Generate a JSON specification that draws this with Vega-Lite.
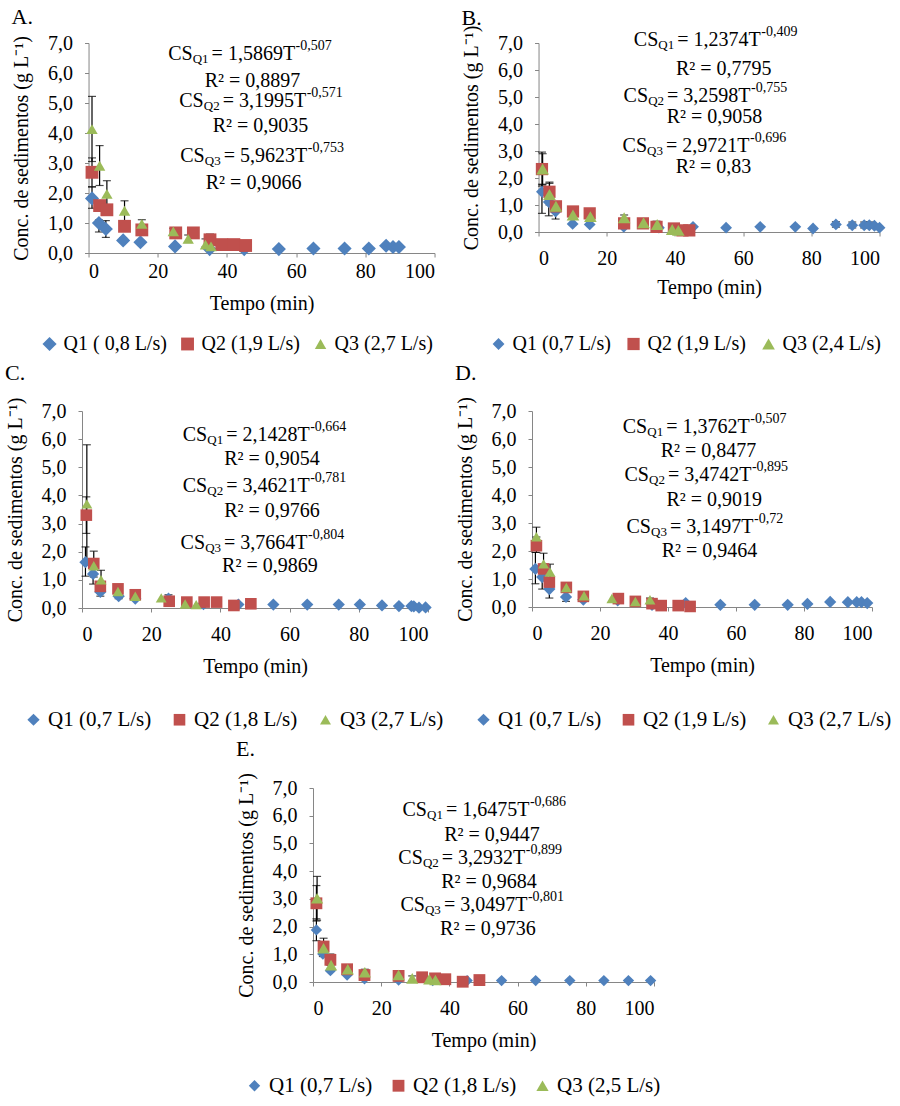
{
"$schema":"https://vega.github.io/schema/vega-lite/v6.json",
"padding":{"left":5,"top":6,"right":0,"bottom":5},
"config":{
 "font":"Liberation Serif",
 "view":{"stroke":null},
 "axis":{"grid":false,"domainColor":"#868686","tickColor":"#868686","tickSize":4,"labelFont":"Liberation Serif","labelFontSize":20,"labelColor":"#000","titleFont":"Liberation Serif","titleFontSize":20,"titleFontWeight":"normal","titleColor":"#000"},
 "axisX":{"labelPadding":12,"titlePadding":12},
 "axisY":{"labelPadding":12,"titlePadding":16,"labelExpr":"replace(format(datum.value,'.1f'),'.',',')"},
 "legend":{"direction":"horizontal","labelFont":"Liberation Serif","labelFontSize":20,"labelColor":"#000","symbolSize":75,"columnPadding":12,"labelOffset":4,"symbolStrokeWidth":0},
 "text":{"font":"Liberation Serif","fontSize":20,"baseline":"middle","color":"#000"},
 "title":{"font":"Liberation Serif","fontSize":22,"fontWeight":"normal","anchor":"start","frame":"bounds","offset":4,"color":"#000"}
},
"datasets":{
"pts":[
{"p":"A","s":"Q1 ( 0,8 L/s)","t":1,"c":1.82},{"p":"A","s":"Q1 ( 0,8 L/s)","t":3,"c":1.0},{"p":"A","s":"Q1 ( 0,8 L/s)","t":5,"c":0.8},{"p":"A","s":"Q1 ( 0,8 L/s)","t":10,"c":0.42},{"p":"A","s":"Q1 ( 0,8 L/s)","t":15,"c":0.36},{"p":"A","s":"Q1 ( 0,8 L/s)","t":25,"c":0.22},{"p":"A","s":"Q1 ( 0,8 L/s)","t":35,"c":0.13},{"p":"A","s":"Q1 ( 0,8 L/s)","t":45,"c":0.13},{"p":"A","s":"Q1 ( 0,8 L/s)","t":55,"c":0.13},{"p":"A","s":"Q1 ( 0,8 L/s)","t":65,"c":0.15},{"p":"A","s":"Q1 ( 0,8 L/s)","t":74,"c":0.15},{"p":"A","s":"Q1 ( 0,8 L/s)","t":81,"c":0.15},{"p":"A","s":"Q1 ( 0,8 L/s)","t":86,"c":0.24},{"p":"A","s":"Q1 ( 0,8 L/s)","t":88,"c":0.2},{"p":"A","s":"Q1 ( 0,8 L/s)","t":89.7,"c":0.2},
{"p":"A","s":"Q2 (1,9 L/s)","t":1,"c":2.69},{"p":"A","s":"Q2 (1,9 L/s)","t":3.2,"c":1.58},{"p":"A","s":"Q2 (1,9 L/s)","t":5.3,"c":1.44},{"p":"A","s":"Q2 (1,9 L/s)","t":10.4,"c":0.89},{"p":"A","s":"Q2 (1,9 L/s)","t":15.4,"c":0.77},{"p":"A","s":"Q2 (1,9 L/s)","t":25.2,"c":0.67},{"p":"A","s":"Q2 (1,9 L/s)","t":30.3,"c":0.67},{"p":"A","s":"Q2 (1,9 L/s)","t":35.1,"c":0.44},{"p":"A","s":"Q2 (1,9 L/s)","t":38.5,"c":0.28},{"p":"A","s":"Q2 (1,9 L/s)","t":42,"c":0.28},{"p":"A","s":"Q2 (1,9 L/s)","t":45.4,"c":0.25},
{"p":"A","s":"Q3 (2,7 L/s)","t":1,"c":4.13},{"p":"A","s":"Q3 (2,7 L/s)","t":3.2,"c":2.91},{"p":"A","s":"Q3 (2,7 L/s)","t":5.3,"c":1.97},{"p":"A","s":"Q3 (2,7 L/s)","t":10.4,"c":1.41},{"p":"A","s":"Q3 (2,7 L/s)","t":15.4,"c":0.97},{"p":"A","s":"Q3 (2,7 L/s)","t":24.5,"c":0.72},{"p":"A","s":"Q3 (2,7 L/s)","t":28.8,"c":0.47},{"p":"A","s":"Q3 (2,7 L/s)","t":33.8,"c":0.28},{"p":"A","s":"Q3 (2,7 L/s)","t":35.4,"c":0.22},
{"p":"B","s":"Q1 (0,7 L/s)","t":1,"c":1.49},{"p":"B","s":"Q1 (0,7 L/s)","t":3,"c":1.11},{"p":"B","s":"Q1 (0,7 L/s)","t":5,"c":0.76},{"p":"B","s":"Q1 (0,7 L/s)","t":10,"c":0.3},{"p":"B","s":"Q1 (0,7 L/s)","t":15,"c":0.28},{"p":"B","s":"Q1 (0,7 L/s)","t":25,"c":0.19},{"p":"B","s":"Q1 (0,7 L/s)","t":35.3,"c":0.16},{"p":"B","s":"Q1 (0,7 L/s)","t":45.3,"c":0.19},{"p":"B","s":"Q1 (0,7 L/s)","t":55,"c":0.16},{"p":"B","s":"Q1 (0,7 L/s)","t":65,"c":0.19},{"p":"B","s":"Q1 (0,7 L/s)","t":75.3,"c":0.19},{"p":"B","s":"Q1 (0,7 L/s)","t":80.5,"c":0.13},{"p":"B","s":"Q1 (0,7 L/s)","t":87.2,"c":0.28},{"p":"B","s":"Q1 (0,7 L/s)","t":92,"c":0.25},{"p":"B","s":"Q1 (0,7 L/s)","t":95.5,"c":0.25},{"p":"B","s":"Q1 (0,7 L/s)","t":97,"c":0.25},{"p":"B","s":"Q1 (0,7 L/s)","t":98.5,"c":0.23},{"p":"B","s":"Q1 (0,7 L/s)","t":100,"c":0.16},
{"p":"B","s":"Q2 (1,9 L/s)","t":1,"c":2.33},{"p":"B","s":"Q2 (1,9 L/s)","t":3.2,"c":1.49},{"p":"B","s":"Q2 (1,9 L/s)","t":5.1,"c":0.95},{"p":"B","s":"Q2 (1,9 L/s)","t":10.1,"c":0.76},{"p":"B","s":"Q2 (1,9 L/s)","t":15,"c":0.69},{"p":"B","s":"Q2 (1,9 L/s)","t":25.1,"c":0.32},{"p":"B","s":"Q2 (1,9 L/s)","t":30.6,"c":0.32},{"p":"B","s":"Q2 (1,9 L/s)","t":34.6,"c":0.19},{"p":"B","s":"Q2 (1,9 L/s)","t":39.7,"c":0.13},{"p":"B","s":"Q2 (1,9 L/s)","t":42.2,"c":0.06},{"p":"B","s":"Q2 (1,9 L/s)","t":44.2,"c":0.06},
{"p":"B","s":"Q3 (2,4 L/s)","t":1.2,"c":2.33},{"p":"B","s":"Q3 (2,4 L/s)","t":3.2,"c":1.39},{"p":"B","s":"Q3 (2,4 L/s)","t":5.1,"c":0.95},{"p":"B","s":"Q3 (2,4 L/s)","t":10.1,"c":0.63},{"p":"B","s":"Q3 (2,4 L/s)","t":15.2,"c":0.57},{"p":"B","s":"Q3 (2,4 L/s)","t":25.1,"c":0.53},{"p":"B","s":"Q3 (2,4 L/s)","t":30.8,"c":0.34},{"p":"B","s":"Q3 (2,4 L/s)","t":34.8,"c":0.28},{"p":"B","s":"Q3 (2,4 L/s)","t":39.2,"c":0.09},{"p":"B","s":"Q3 (2,4 L/s)","t":41,"c":0.06},
{"p":"C","s":"Q1 (0,7 L/s)","t":1,"c":1.63},{"p":"C","s":"Q1 (0,7 L/s)","t":3.2,"c":1.21},{"p":"C","s":"Q1 (0,7 L/s)","t":5.3,"c":0.57},{"p":"C","s":"Q1 (0,7 L/s)","t":10.6,"c":0.42},{"p":"C","s":"Q1 (0,7 L/s)","t":15.4,"c":0.33},{"p":"C","s":"Q1 (0,7 L/s)","t":25,"c":0.33},{"p":"C","s":"Q1 (0,7 L/s)","t":35.1,"c":0.14},{"p":"C","s":"Q1 (0,7 L/s)","t":45.2,"c":0.12},{"p":"C","s":"Q1 (0,7 L/s)","t":55.3,"c":0.12},{"p":"C","s":"Q1 (0,7 L/s)","t":65.1,"c":0.12},{"p":"C","s":"Q1 (0,7 L/s)","t":74.2,"c":0.12},{"p":"C","s":"Q1 (0,7 L/s)","t":80.3,"c":0.12},{"p":"C","s":"Q1 (0,7 L/s)","t":86.7,"c":0.09},{"p":"C","s":"Q1 (0,7 L/s)","t":91.6,"c":0.07},{"p":"C","s":"Q1 (0,7 L/s)","t":95.2,"c":0.07},{"p":"C","s":"Q1 (0,7 L/s)","t":95.9,"c":0.06},{"p":"C","s":"Q1 (0,7 L/s)","t":97.4,"c":0.01},{"p":"C","s":"Q1 (0,7 L/s)","t":99.3,"c":0.02},
{"p":"C","s":"Q2 (1,8 L/s)","t":1.25,"c":3.3},{"p":"C","s":"Q2 (1,8 L/s)","t":3.4,"c":1.58},{"p":"C","s":"Q2 (1,8 L/s)","t":5.3,"c":0.77},{"p":"C","s":"Q2 (1,8 L/s)","t":10.4,"c":0.68},{"p":"C","s":"Q2 (1,8 L/s)","t":15.4,"c":0.47},{"p":"C","s":"Q2 (1,8 L/s)","t":25.2,"c":0.24},{"p":"C","s":"Q2 (1,8 L/s)","t":30.3,"c":0.21},{"p":"C","s":"Q2 (1,8 L/s)","t":35.3,"c":0.21},{"p":"C","s":"Q2 (1,8 L/s)","t":38.9,"c":0.21},{"p":"C","s":"Q2 (1,8 L/s)","t":43.9,"c":0.09},{"p":"C","s":"Q2 (1,8 L/s)","t":48.8,"c":0.15},
{"p":"C","s":"Q3 (2,7 L/s)","t":1.4,"c":3.7},{"p":"C","s":"Q3 (2,7 L/s)","t":3.4,"c":1.5},{"p":"C","s":"Q3 (2,7 L/s)","t":5.5,"c":1.0},{"p":"C","s":"Q3 (2,7 L/s)","t":10.4,"c":0.59},{"p":"C","s":"Q3 (2,7 L/s)","t":15.4,"c":0.42},{"p":"C","s":"Q3 (2,7 L/s)","t":22.9,"c":0.36},{"p":"C","s":"Q3 (2,7 L/s)","t":29.8,"c":0.14},{"p":"C","s":"Q3 (2,7 L/s)","t":33,"c":0.12},
{"p":"D","s":"Q1 (0,7 L/s)","t":1,"c":1.36},{"p":"D","s":"Q1 (0,7 L/s)","t":3,"c":1.07},{"p":"D","s":"Q1 (0,7 L/s)","t":5.1,"c":0.64},{"p":"D","s":"Q1 (0,7 L/s)","t":10,"c":0.36},{"p":"D","s":"Q1 (0,7 L/s)","t":15.1,"c":0.26},{"p":"D","s":"Q1 (0,7 L/s)","t":25.2,"c":0.24},{"p":"D","s":"Q1 (0,7 L/s)","t":35.3,"c":0.08},{"p":"D","s":"Q1 (0,7 L/s)","t":45.2,"c":0.14},{"p":"D","s":"Q1 (0,7 L/s)","t":55.4,"c":0.08},{"p":"D","s":"Q1 (0,7 L/s)","t":65.5,"c":0.08},{"p":"D","s":"Q1 (0,7 L/s)","t":75.2,"c":0.08},{"p":"D","s":"Q1 (0,7 L/s)","t":81,"c":0.11},{"p":"D","s":"Q1 (0,7 L/s)","t":87.7,"c":0.18},{"p":"D","s":"Q1 (0,7 L/s)","t":92.9,"c":0.17},{"p":"D","s":"Q1 (0,7 L/s)","t":95.5,"c":0.17},{"p":"D","s":"Q1 (0,7 L/s)","t":96.9,"c":0.17},{"p":"D","s":"Q1 (0,7 L/s)","t":98.6,"c":0.14},
{"p":"D","s":"Q2 (1,9 L/s)","t":1.3,"c":2.19},{"p":"D","s":"Q2 (1,9 L/s)","t":3.4,"c":1.36},{"p":"D","s":"Q2 (1,9 L/s)","t":5.1,"c":0.89},{"p":"D","s":"Q2 (1,9 L/s)","t":10.1,"c":0.7},{"p":"D","s":"Q2 (1,9 L/s)","t":15.1,"c":0.38},{"p":"D","s":"Q2 (1,9 L/s)","t":25.4,"c":0.3},{"p":"D","s":"Q2 (1,9 L/s)","t":30.4,"c":0.2},{"p":"D","s":"Q2 (1,9 L/s)","t":35.3,"c":0.12},{"p":"D","s":"Q2 (1,9 L/s)","t":38,"c":0.05},{"p":"D","s":"Q2 (1,9 L/s)","t":43,"c":0.05},{"p":"D","s":"Q2 (1,9 L/s)","t":46.5,"c":0.02},
{"p":"D","s":"Q3 (2,7 L/s)","t":1.3,"c":2.51},{"p":"D","s":"Q3 (2,7 L/s)","t":3.4,"c":1.54},{"p":"D","s":"Q3 (2,7 L/s)","t":5.3,"c":1.25},{"p":"D","s":"Q3 (2,7 L/s)","t":10.1,"c":0.7},{"p":"D","s":"Q3 (2,7 L/s)","t":15.3,"c":0.4},{"p":"D","s":"Q3 (2,7 L/s)","t":23.5,"c":0.3},{"p":"D","s":"Q3 (2,7 L/s)","t":30.4,"c":0.2},{"p":"D","s":"Q3 (2,7 L/s)","t":34.7,"c":0.26},
{"p":"E","s":"Q1 (0,7 L/s)","t":1,"c":1.88},{"p":"E","s":"Q1 (0,7 L/s)","t":2.9,"c":1.01},{"p":"E","s":"Q1 (0,7 L/s)","t":5.1,"c":0.41},{"p":"E","s":"Q1 (0,7 L/s)","t":10,"c":0.25},{"p":"E","s":"Q1 (0,7 L/s)","t":15.1,"c":0.12},{"p":"E","s":"Q1 (0,7 L/s)","t":25.1,"c":0.07},{"p":"E","s":"Q1 (0,7 L/s)","t":35.1,"c":0.05},{"p":"E","s":"Q1 (0,7 L/s)","t":45.2,"c":0.05},{"p":"E","s":"Q1 (0,7 L/s)","t":55.3,"c":0.05},{"p":"E","s":"Q1 (0,7 L/s)","t":65.3,"c":0.05},{"p":"E","s":"Q1 (0,7 L/s)","t":75.3,"c":0.05},{"p":"E","s":"Q1 (0,7 L/s)","t":85.3,"c":0.05},{"p":"E","s":"Q1 (0,7 L/s)","t":92.5,"c":0.05},{"p":"E","s":"Q1 (0,7 L/s)","t":99,"c":0.05},
{"p":"E","s":"Q2 (1,8 L/s)","t":1,"c":2.84},{"p":"E","s":"Q2 (1,8 L/s)","t":3.1,"c":1.28},{"p":"E","s":"Q2 (1,8 L/s)","t":5.1,"c":0.8},{"p":"E","s":"Q2 (1,8 L/s)","t":10,"c":0.46},{"p":"E","s":"Q2 (1,8 L/s)","t":15.1,"c":0.25},{"p":"E","s":"Q2 (1,8 L/s)","t":25.1,"c":0.22},{"p":"E","s":"Q2 (1,8 L/s)","t":32,"c":0.17},{"p":"E","s":"Q2 (1,8 L/s)","t":35.8,"c":0.13},{"p":"E","s":"Q2 (1,8 L/s)","t":38.8,"c":0.1},{"p":"E","s":"Q2 (1,8 L/s)","t":43.9,"c":0.01},{"p":"E","s":"Q2 (1,8 L/s)","t":48.8,"c":0.07},
{"p":"E","s":"Q3 (2,5 L/s)","t":1.2,"c":3.02},{"p":"E","s":"Q3 (2,5 L/s)","t":3.1,"c":1.22},{"p":"E","s":"Q3 (2,5 L/s)","t":5.3,"c":0.61},{"p":"E","s":"Q3 (2,5 L/s)","t":10.2,"c":0.46},{"p":"E","s":"Q3 (2,5 L/s)","t":15.2,"c":0.35},{"p":"E","s":"Q3 (2,5 L/s)","t":25.1,"c":0.25},{"p":"E","s":"Q3 (2,5 L/s)","t":29.1,"c":0.13},{"p":"E","s":"Q3 (2,5 L/s)","t":34.1,"c":0.1},{"p":"E","s":"Q3 (2,5 L/s)","t":35.9,"c":0.07}
],
"err":[
{"p":"A","t":1,"c":3.05,"c2":5.22},{"p":"A","t":1,"c":2.21,"c2":3.17},{"p":"A","t":1,"c":1.49,"c2":2.2},{"p":"A","t":3.2,"c":2.25,"c2":3.58},{"p":"A","t":3.2,"c":1.45,"c2":1.7},{"p":"A","t":3,"c":0.7,"c2":1.1},{"p":"A","t":5.3,"c":1.55,"c2":2.41},{"p":"A","t":5,"c":0.52,"c2":1.08},{"p":"A","t":5.3,"c":1.3,"c2":1.6},{"p":"A","t":10.4,"c":1.08,"c2":1.74},{"p":"A","t":10.4,"c":0.75,"c2":1.05},{"p":"A","t":10,"c":0.35,"c2":0.5},{"p":"A","t":15.4,"c":0.85,"c2":1.11},{"p":"A","t":15.4,"c":0.65,"c2":0.9},{"p":"A","t":24.5,"c":0.62,"c2":0.82},{"p":"A","t":25.2,"c":0.6,"c2":0.8},{"p":"A","t":28.8,"c":0.35,"c2":0.6},{"p":"A","t":35.1,"c":0.25,"c2":0.63},{"p":"A","t":33.8,"c":0.2,"c2":0.47},{"p":"A","t":38.5,"c":0.2,"c2":0.39},{"p":"A","t":42,"c":0.2,"c2":0.39},{"p":"A","t":45.4,"c":0.15,"c2":0.37},
{"p":"B","t":1,"c":1.7,"c2":2.96},{"p":"B","t":1.2,"c":1.75,"c2":2.9},{"p":"B","t":1,"c":0.69,"c2":1.77},{"p":"B","t":3.2,"c":1.15,"c2":1.85},{"p":"B","t":3,"c":0.6,"c2":1.6},{"p":"B","t":3.2,"c":1.0,"c2":1.8},{"p":"B","t":5,"c":0.48,"c2":1.0},{"p":"B","t":5.1,"c":0.75,"c2":1.13},{"p":"B","t":25.1,"c":0.45,"c2":0.63},{"p":"B","t":34.6,"c":0.1,"c2":0.4},{"p":"B","t":87.2,"c":0.18,"c2":0.38},{"p":"B","t":92,"c":0.15,"c2":0.37},{"p":"B","t":95.5,"c":0.15,"c2":0.37},{"p":"B","t":97,"c":0.15,"c2":0.37},
{"p":"C","t":1.4,"c":1.6,"c2":5.8},{"p":"C","t":1.25,"c":2.65,"c2":3.95},{"p":"C","t":1,"c":1.13,"c2":2.17},{"p":"C","t":3.4,"c":1.1,"c2":2.02},{"p":"C","t":3.2,"c":0.85,"c2":1.55},{"p":"C","t":5.5,"c":0.7,"c2":1.34},{"p":"C","t":5.3,"c":0.42,"c2":0.75},{"p":"C","t":10.6,"c":0.33,"c2":0.5},{"p":"C","t":25,"c":0.2,"c2":0.47},
{"p":"D","t":1.3,"c":2.2,"c2":2.85},{"p":"D","t":1,"c":0.83,"c2":1.95},{"p":"D","t":1.3,"c":1.95,"c2":2.5},{"p":"D","t":3.4,"c":1.2,"c2":1.92},{"p":"D","t":3,"c":0.64,"c2":1.5},{"p":"D","t":5.3,"c":1.0,"c2":1.53},{"p":"D","t":5.1,"c":0.32,"c2":0.95},{"p":"D","t":10,"c":0.2,"c2":0.85},{"p":"D","t":25.2,"c":0.2,"c2":0.4},{"p":"D","t":34.7,"c":0.15,"c2":0.32},
{"p":"E","t":1.2,"c":2.23,"c2":3.81},{"p":"E","t":1,"c":2.2,"c2":3.48},{"p":"E","t":1,"c":1.49,"c2":2.28},{"p":"E","t":3.1,"c":0.98,"c2":1.58},{"p":"E","t":2.9,"c":0.92,"c2":1.1},{"p":"E","t":5.1,"c":0.6,"c2":1.01},{"p":"E","t":10.2,"c":0.3,"c2":0.61},{"p":"E","t":15.2,"c":0.25,"c2":0.46},{"p":"E","t":29.1,"c":0.05,"c2":0.22}
],
"eq":[
{"p":"A","t":34.7,"c":6.63,"sub":"Q1","main":"= 1,5869T","sup":"-0,507"},{"p":"A","t":37.9,"c":5.07,"sub":"Q2","main":"= 3,1995T","sup":"-0,571"},{"p":"A","t":38.2,"c":3.23,"sub":"Q3","main":"= 5,9623T","sup":"-0,753"},
{"p":"B","t":39.8,"c":7.12,"sub":"Q1","main":"= 1,2374T","sup":"-0,409"},{"p":"B","t":36.8,"c":5.04,"sub":"Q2","main":"= 3,2598T","sup":"-0,755"},{"p":"B","t":36.5,"c":3.19,"sub":"Q3","main":"= 2,9721T","sup":"-0,696"},
{"p":"C","t":40.8,"c":6.15,"sub":"Q1","main":"= 2,1428T","sup":"-0,664"},{"p":"C","t":40.8,"c":4.33,"sub":"Q2","main":"= 3,4621T","sup":"-0,781"},{"p":"C","t":40.2,"c":2.31,"sub":"Q3","main":"= 3,7664T","sup":"-0,804"},
{"p":"D","t":38.6,"c":6.43,"sub":"Q1","main":"= 1,3762T","sup":"-0,507"},{"p":"D","t":39.1,"c":4.71,"sub":"Q2","main":"= 3,4742T","sup":"-0,895"},{"p":"D","t":39.7,"c":2.86,"sub":"Q3","main":"= 3,1497T","sup":"-0,72"},
{"p":"E","t":38.1,"c":6.21,"sub":"Q1","main":"= 1,6475T","sup":"-0,686"},{"p":"E","t":36.9,"c":4.48,"sub":"Q2","main":"= 3,2932T","sup":"-0,899"},{"p":"E","t":37.5,"c":2.78,"sub":"Q3","main":"= 3,0497T","sup":"-0,801"}
],
"r2":[
{"p":"A","t":47.4,"c":5.73,"txt":"R² = 0,8897"},{"p":"A","t":49.7,"c":4.23,"txt":"R² = 0,9035"},{"p":"A","t":47.7,"c":2.33,"txt":"R² = 0,9066"},
{"p":"B","t":54.3,"c":6.05,"txt":"R² = 0,7795"},{"p":"B","t":51.6,"c":4.26,"txt":"R² = 0,9058"},{"p":"B","t":51.3,"c":2.41,"txt":"R² = 0,83"},
{"p":"C","t":54.9,"c":5.29,"txt":"R² = 0,9054"},{"p":"C","t":54.9,"c":3.44,"txt":"R² = 0,9766"},{"p":"C","t":54.3,"c":1.48,"txt":"R² = 0,9869"},
{"p":"D","t":51.9,"c":5.57,"txt":"R² = 0,8477"},{"p":"D","t":53.6,"c":3.82,"txt":"R² = 0,9019"},{"p":"D","t":52.2,"c":2.0,"txt":"R² = 0,9464"},
{"p":"E","t":52.5,"c":5.31,"txt":"R² = 0,9447"},{"p":"E","t":51.6,"c":3.61,"txt":"R² = 0,9684"},{"p":"E","t":51.3,"c":1.91,"txt":"R² = 0,9736"}
]
},
"vconcat":[
{"hconcat":[
  {"title":"A.","width":346,"height":210,
   "encoding":{"x":{"field":"t","type":"quantitative","scale":{"domain":[0,100],"nice":false},"axis":{"values":[0,20,40,60,80,100],"labelPadding":4,"titlePadding":12},"title":"Tempo (min)"},
               "y":{"field":"c","type":"quantitative","scale":{"domain":[0,7],"nice":false},"axis":{"values":[0,1,2,3,4,5,6,7]},"title":"Conc. de sedimentos (g L⁻¹)"}},
   "layer":[
    {"data":{"name":"err"},"transform":[{"filter":"datum.p==='A'"}],"mark":{"type":"errorbar","ticks":{"size":8},"color":"#000","thickness":1.2},"encoding":{"y2":{"field":"c2"}}},
    {"data":{"name":"pts"},"transform":[{"filter":"datum.p==='A'"}],"mark":{"type":"point","filled":true,"opacity":1,"strokeWidth":0},
     "encoding":{"color":{"field":"s","type":"nominal","scale":{"range":["#4F81BD","#C0504D","#9BBB59"]},"legend":{"title":null,"orient":"none","legendX":-49,"legendY":291,"columnPadding":10}},
                 "shape":{"field":"s","type":"nominal","scale":{"range":["diamond","square","triangle-up"]},"legend":{"title":null,"orient":"none","legendX":-49,"legendY":291,"columnPadding":10}},
                 "size":{"field":"s","type":"ordinal","scale":{"range":[200,130,130]},"legend":null}}},
    {"data":{"name":"eq"},"transform":[{"filter":"datum.p==='A'"}],"mark":{"type":"text","text":"CS","align":"right","dx":-16}},
    {"data":{"name":"eq"},"transform":[{"filter":"datum.p==='A'"}],"mark":{"type":"text","align":"right","fontSize":13,"dy":5},"encoding":{"text":{"field":"sub"}}},
    {"data":{"name":"eq"},"transform":[{"filter":"datum.p==='A'"}],"mark":{"type":"text","align":"left","dx":3},"encoding":{"text":{"field":"main"}}},
    {"data":{"name":"eq"},"transform":[{"filter":"datum.p==='A'"}],"mark":{"type":"text","align":"left","fontSize":14,"dy":-8,"dx":87},"encoding":{"text":{"field":"sup"}}},
    {"data":{"name":"r2"},"transform":[{"filter":"datum.p==='A'"}],"mark":{"type":"text","align":"center"},"encoding":{"text":{"field":"txt"}}}
   ]},
  {"title":{"text":"B.","offset":-5},"width":341,"height":189,
   "encoding":{"x":{"field":"t","type":"quantitative","scale":{"domain":[0,100],"nice":false},"axis":{"values":[0,20,40,60,80,100],"titlePadding":9},"title":"Tempo (min)"},
               "y":{"field":"c","type":"quantitative","scale":{"domain":[0,7],"nice":false},"axis":{"values":[0,1,2,3,4,5,6,7]},"title":"Conc. de sedimentos (g L⁻¹)"}},
   "layer":[
    {"data":{"name":"err"},"transform":[{"filter":"datum.p==='B'"}],"mark":{"type":"errorbar","ticks":{"size":8},"color":"#000","thickness":1.2},"encoding":{"y2":{"field":"c2"}}},
    {"data":{"name":"pts"},"transform":[{"filter":"datum.p==='B'"}],"mark":{"type":"point","filled":true,"opacity":1,"strokeWidth":0},
     "encoding":{"color":{"field":"s","type":"nominal","scale":{"range":["#4F81BD","#C0504D","#9BBB59"]},"legend":{"title":null,"orient":"none","legendX":-50,"legendY":291,"columnPadding":12}},
                 "shape":{"field":"s","type":"nominal","scale":{"range":["diamond","square","triangle-up"]},"legend":{"title":null,"orient":"none","legendX":-50,"legendY":291,"columnPadding":12}},
                 "size":{"field":"s","type":"ordinal","scale":{"range":[140,160,130]},"legend":null}}},
    {"data":{"name":"eq"},"transform":[{"filter":"datum.p==='B'"}],"mark":{"type":"text","text":"CS","align":"right","dx":-16}},
    {"data":{"name":"eq"},"transform":[{"filter":"datum.p==='B'"}],"mark":{"type":"text","align":"right","fontSize":13,"dy":5},"encoding":{"text":{"field":"sub"}}},
    {"data":{"name":"eq"},"transform":[{"filter":"datum.p==='B'"}],"mark":{"type":"text","align":"left","dx":3},"encoding":{"text":{"field":"main"}}},
    {"data":{"name":"eq"},"transform":[{"filter":"datum.p==='B'"}],"mark":{"type":"text","align":"left","fontSize":14,"dy":-8,"dx":87},"encoding":{"text":{"field":"sup"}}},
    {"data":{"name":"r2"},"transform":[{"filter":"datum.p==='B'"}],"mark":{"type":"text","align":"center"},"encoding":{"text":{"field":"txt"}}}
   ]}
 ],"spacing":104,"bounds":"flush","resolve":{"scale":{"color":"independent","shape":"independent","size":"independent"},"legend":{"color":"independent","shape":"independent"}}},
{"hconcat":[
  {"title":{"text":"C.","offset":12},"width":346,"height":197,
   "encoding":{"x":{"field":"t","type":"quantitative","scale":{"domain":[0,100],"nice":false},"axis":{"values":[0,20,40,60,80,100]},"title":"Tempo (min)"},
               "y":{"field":"c","type":"quantitative","scale":{"domain":[0,7],"nice":false},"axis":{"values":[0,1,2,3,4,5,6,7]},"title":"Conc. de sedimentos (g L⁻¹)"}},
   "layer":[
    {"data":{"name":"err"},"transform":[{"filter":"datum.p==='C'"}],"mark":{"type":"errorbar","ticks":{"size":8},"color":"#000","thickness":1.2},"encoding":{"y2":{"field":"c2"}}},
    {"data":{"name":"pts"},"transform":[{"filter":"datum.p==='C'"}],"mark":{"type":"point","filled":true,"opacity":1,"strokeWidth":0},
     "encoding":{"color":{"field":"s","type":"nominal","scale":{"range":["#4F81BD","#C0504D","#9BBB59"]},"legend":{"title":null,"orient":"none","legendX":-59,"legendY":298,"labelFontSize":21,"columnPadding":17}},
                 "shape":{"field":"s","type":"nominal","scale":{"range":["diamond","square","triangle-up"]},"legend":{"title":null,"orient":"none","legendX":-59,"legendY":298,"labelFontSize":21,"columnPadding":17}},
                 "size":{"field":"s","type":"ordinal","scale":{"range":[150,120,130]},"legend":null}}},
    {"data":{"name":"eq"},"transform":[{"filter":"datum.p==='C'"}],"mark":{"type":"text","text":"CS","align":"right","dx":-16}},
    {"data":{"name":"eq"},"transform":[{"filter":"datum.p==='C'"}],"mark":{"type":"text","align":"right","fontSize":13,"dy":5},"encoding":{"text":{"field":"sub"}}},
    {"data":{"name":"eq"},"transform":[{"filter":"datum.p==='C'"}],"mark":{"type":"text","align":"left","dx":3},"encoding":{"text":{"field":"main"}}},
    {"data":{"name":"eq"},"transform":[{"filter":"datum.p==='C'"}],"mark":{"type":"text","align":"left","fontSize":14,"dy":-8,"dx":87},"encoding":{"text":{"field":"sup"}}},
    {"data":{"name":"r2"},"transform":[{"filter":"datum.p==='C'"}],"mark":{"type":"text","align":"center"},"encoding":{"text":{"field":"txt"}}}
   ]},
  {"title":{"text":"D.","offset":12},"width":340,"height":196,
   "encoding":{"x":{"field":"t","type":"quantitative","scale":{"domain":[0,100],"nice":false},"axis":{"values":[0,20,40,60,80,100]},"title":"Tempo (min)"},
               "y":{"field":"c","type":"quantitative","scale":{"domain":[0,7],"nice":false},"axis":{"values":[0,1,2,3,4,5,6,7]},"title":"Conc. de sedimentos (g L⁻¹)"}},
   "layer":[
    {"data":{"name":"err"},"transform":[{"filter":"datum.p==='D'"}],"mark":{"type":"errorbar","ticks":{"size":8},"color":"#000","thickness":1.2},"encoding":{"y2":{"field":"c2"}}},
    {"data":{"name":"pts"},"transform":[{"filter":"datum.p==='D'"}],"mark":{"type":"point","filled":true,"opacity":1,"strokeWidth":0},
     "encoding":{"color":{"field":"s","type":"nominal","scale":{"range":["#4F81BD","#C0504D","#9BBB59"]},"legend":{"title":null,"orient":"none","legendX":-59,"legendY":298,"labelFontSize":21,"columnPadding":16}},
                 "shape":{"field":"s","type":"nominal","scale":{"range":["diamond","square","triangle-up"]},"legend":{"title":null,"orient":"none","legendX":-59,"legendY":298,"labelFontSize":21,"columnPadding":16}},
                 "size":{"field":"s","type":"ordinal","scale":{"range":[150,120,130]},"legend":null}}},
    {"data":{"name":"eq"},"transform":[{"filter":"datum.p==='D'"}],"mark":{"type":"text","text":"CS","align":"right","dx":-16}},
    {"data":{"name":"eq"},"transform":[{"filter":"datum.p==='D'"}],"mark":{"type":"text","align":"right","fontSize":13,"dy":5},"encoding":{"text":{"field":"sub"}}},
    {"data":{"name":"eq"},"transform":[{"filter":"datum.p==='D'"}],"mark":{"type":"text","align":"left","dx":3},"encoding":{"text":{"field":"main"}}},
    {"data":{"name":"eq"},"transform":[{"filter":"datum.p==='D'"}],"mark":{"type":"text","align":"left","fontSize":14,"dy":-8,"dx":87},"encoding":{"text":{"field":"sup"}}},
    {"data":{"name":"r2"},"transform":[{"filter":"datum.p==='D'"}],"mark":{"type":"text","align":"center"},"encoding":{"text":{"field":"txt"}}}
   ]}
 ],"spacing":104,"bounds":"flush","resolve":{"scale":{"color":"independent","shape":"independent","size":"independent"},"legend":{"color":"independent","shape":"independent"}}},
{"title":{"text":"E.","offset":12},"width":341,"height":194,
   "encoding":{"x":{"field":"t","type":"quantitative","scale":{"domain":[0,100],"nice":false},"axis":{"values":[0,20,40,60,80,100]},"title":"Tempo (min)"},
               "y":{"field":"c","type":"quantitative","scale":{"domain":[0,7],"nice":false},"axis":{"values":[0,1,2,3,4,5,6,7]},"title":"Conc. de sedimentos (g L⁻¹)"}},
   "layer":[
    {"data":{"name":"err"},"transform":[{"filter":"datum.p==='E'"}],"mark":{"type":"errorbar","ticks":{"size":8},"color":"#000","thickness":1.2},"encoding":{"y2":{"field":"c2"}}},
    {"data":{"name":"pts"},"transform":[{"filter":"datum.p==='E'"}],"mark":{"type":"point","filled":true,"opacity":1,"strokeWidth":0},
     "encoding":{"color":{"field":"s","type":"nominal","scale":{"range":["#4F81BD","#C0504D","#9BBB59"]},"legend":{"title":null,"orient":"none","legendX":-69,"legendY":287,"labelFontSize":21,"columnPadding":15}},
                 "shape":{"field":"s","type":"nominal","scale":{"range":["diamond","square","triangle-up"]},"legend":{"title":null,"orient":"none","legendX":-69,"legendY":287,"labelFontSize":21,"columnPadding":15}},
                 "size":{"field":"s","type":"ordinal","scale":{"range":[130,150,150]},"legend":null}}},
    {"data":{"name":"eq"},"transform":[{"filter":"datum.p==='E'"}],"mark":{"type":"text","text":"CS","align":"right","dx":-16}},
    {"data":{"name":"eq"},"transform":[{"filter":"datum.p==='E'"}],"mark":{"type":"text","align":"right","fontSize":13,"dy":5},"encoding":{"text":{"field":"sub"}}},
    {"data":{"name":"eq"},"transform":[{"filter":"datum.p==='E'"}],"mark":{"type":"text","align":"left","dx":3},"encoding":{"text":{"field":"main"}}},
    {"data":{"name":"eq"},"transform":[{"filter":"datum.p==='E'"}],"mark":{"type":"text","align":"left","fontSize":14,"dy":-8,"dx":87},"encoding":{"text":{"field":"sup"}}},
    {"data":{"name":"r2"},"transform":[{"filter":"datum.p==='E'"}],"mark":{"type":"text","align":"center"},"encoding":{"text":{"field":"txt"}}}
   ]}
],
"spacing":7,"center":true,
"resolve":{"scale":{"color":"independent","shape":"independent","size":"independent"},"legend":{"color":"independent","shape":"independent"}}
}
